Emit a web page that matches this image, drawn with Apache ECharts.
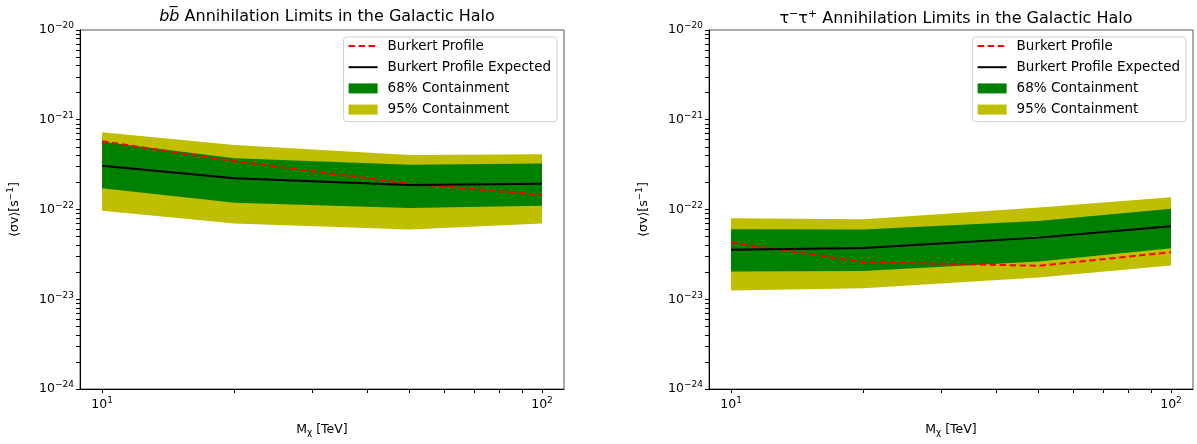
<!DOCTYPE html>
<html>
<head>
<meta charset="utf-8">
<script src="https://cdn.jsdelivr.net/npm/echarts@6/dist/echarts.min.js"></script>
<style>
  html, body { margin: 0; background: #fff; }
  #chart { width: 1197px; height: 444px; }
</style>
</head>
<body>
<div id="chart"></div>
<script>
  // dark matter mass [TeV]
  const massTeV = [10, 20, 50, 100]

  // b bbar channel, <sigma v> limits
  const bbObserved = [5.75e-22, 3.45e-22, 1.94e-22, 1.45e-22]
  const bbExpected = [3.08e-22, 2.23e-22, 1.88e-22, 1.94e-22]
  const bbLow68 = [1.73e-22, 1.19e-22, 1.04e-22, 1.10e-22]
  const bbHigh68 = [5.70e-22, 3.72e-22, 3.16e-22, 3.25e-22]
  const bbLow95 = [9.7e-23, 6.97e-23, 5.97e-23, 6.97e-23]
  const bbHigh95 = [7.26e-22, 5.24e-22, 4.06e-22, 4.12e-22]

  // tau tau channel
  const ttObserved = [4.28e-23, 2.59e-23, 2.36e-23, 3.34e-23]
  const ttExpected = [3.55e-23, 3.73e-23, 4.86e-23, 6.52e-23]
  const ttLow68 = [2.04e-23, 2.07e-23, 2.63e-23, 3.71e-23]
  const ttHigh68 = [6.03e-23, 5.97e-23, 7.46e-23, 1.02e-22]
  const ttLow95 = [1.25e-23, 1.33e-23, 1.75e-23, 2.38e-23]
  const ttHigh95 = [8.0e-23, 7.8e-23, 1.05e-22, 1.37e-22]

  // ticks (major ones get a label, all of them get a tick mark)
  const xMajorTicks = [10, 100]
  const xMinorTicks = [20, 30, 40, 50, 60, 70, 80, 90]
  const yMajorTicks = [1e-24, 1e-23, 1e-22, 1e-21, 1e-20]
  const yMinorMult = [2, 3, 4, 5, 6, 7, 8, 9]
  const yMinorTicks = []
  yMajorTicks.slice(0, 4).forEach(d => yMinorMult.forEach(m => yMinorTicks.push(m * d)))

  const fontFamily = 'DejaVu Sans'
  const supRich = {
    b: { fontSize: 12.5, fontFamily: fontFamily, color: '#000' },
    s: { fontSize: 9, fontFamily: fontFamily, color: '#000', padding: [0, 0, 8, 0] }
  }

  function powLabel(v) {
    const e = Math.round(Math.log10(v))
    return '{b|10}{s|' + String(e).replace('-', '\u2212') + '}'
  }

  const chart = echarts.init(document.getElementById('chart'))

  const panels = [
    { left: 80, right: 633, legendRight: 640, titleX: 322,
      title: '{i|b}{i|b\u0305} Annihilation Limits in the Galactic Halo',
      obs: bbObserved, exp: bbExpected, lo68: bbLow68, hi68: bbHigh68, lo95: bbLow95, hi95: bbHigh95 },
    { left: 709, right: 4, legendRight: 11, titleX: 951,
      title: '{t|\u03c4}{s|\u2212}{t|\u03c4}{s|+} Annihilation Limits in the Galactic Halo',
      obs: ttObserved, exp: ttExpected, lo68: ttLow68, hi68: ttHigh68, lo95: ttLow95, hi95: ttHigh95 }
  ]

  function band(lower, upper) {
    return function (params, api) {
      if (params.dataIndex !== 0) return null
      const pts = []
      massTeV.forEach((m, i) => pts.push(api.coord([m, upper[i]])))
      for (let i = massTeV.length - 1; i >= 0; i--) pts.push(api.coord([massTeV[i], lower[i]]))
      return { type: 'polygon', shape: { points: pts }, style: { fill: api.visual('color') } }
    }
  }

  const grid = [], xAxis = [], yAxis = [], series = [], title = [], legend = []

  panels.forEach((p, k) => {
    grid.push({ left: p.left, right: p.right, top: 30, bottom: 55, show: true,
      borderColor: '#555', borderWidth: 1, backgroundColor: 'transparent' })

    xAxis.push({
      type: 'log', gridIndex: k, min: 8.91, max: 112.2, position: 'bottom',
      name: '{b|M}{u|\u03c7} [TeV]', nameLocation: 'middle', nameGap: 33,
      nameTextStyle: { fontSize: 12.5, color: '#000', rich: {
        b: { fontSize: 12.5, fontFamily: fontFamily, color: '#000' },
        u: { fontSize: 9, fontFamily: fontFamily, color: '#000', padding: [6, 0, 0, 0] } } },
      axisLine: { show: true, onZero: false, lineStyle: { color: '#000', width: 1 } },
      axisTick: { customValues: xMajorTicks.concat(xMinorTicks), length: 4, lineStyle: { color: '#000' } },
      axisLabel: { customValues: xMajorTicks, formatter: powLabel, rich: supRich, margin: 7 },
      splitLine: { show: false }
    })
    yAxis.push({
      type: 'log', gridIndex: k, min: 1e-24, max: 1e-20, position: 'left',
      name: '\u27e8\u03c3v\u27e9[s{s|\u22121}]', nameLocation: 'middle', nameGap: 57, nameRotate: 90,
      nameTextStyle: { fontSize: 12.5, fontFamily: fontFamily, color: '#000',
        rich: { s: { fontSize: 9, fontFamily: fontFamily, color: '#000', padding: [0, 0, 8, 0] } } },
      axisLine: { show: true, onZero: false, lineStyle: { color: '#000', width: 1 } },
      axisTick: { customValues: yMajorTicks.concat(yMinorTicks), length: 4, lineStyle: { color: '#000' } },
      axisLabel: { customValues: yMajorTicks, formatter: powLabel, rich: supRich, margin: 6 },
      splitLine: { show: false }
    })

    series.push({
      name: '95% Containment', type: 'custom', xAxisIndex: k, yAxisIndex: k,
      itemStyle: { color: '#bfbf00' }, z: 1,
      renderItem: band(p.lo95, p.hi95),
      data: massTeV.map((m, i) => [m, p.lo95[i], p.hi95[i]]),
      encode: { x: 0, y: [1, 2] }
    })
    series.push({
      name: '68% Containment', type: 'custom', xAxisIndex: k, yAxisIndex: k,
      itemStyle: { color: '#008000' }, z: 2,
      renderItem: band(p.lo68, p.hi68),
      data: massTeV.map((m, i) => [m, p.lo68[i], p.hi68[i]]),
      encode: { x: 0, y: [1, 2] }
    })
    series.push({
      name: 'Burkert Profile', type: 'line', xAxisIndex: k, yAxisIndex: k,
      symbol: 'none', z: 3,
      itemStyle: { color: '#ff0000' },
      lineStyle: { color: '#ff0000', width: 2, type: [6.5, 3.5] },
      data: massTeV.map((m, i) => [m, p.obs[i]])
    })
    series.push({
      name: 'Burkert Profile Expected', type: 'line', xAxisIndex: k, yAxisIndex: k,
      symbol: 'none', z: 4,
      itemStyle: { color: '#000' },
      lineStyle: { color: '#000', width: 2 },
      data: massTeV.map((m, i) => [m, p.exp[i]])
    })

    title.push({
      text: p.title, left: p.titleX, top: 4, textAlign: 'center',
      textStyle: { fontSize: 16, fontWeight: 'normal', fontFamily: fontFamily, color: '#000',
        rich: {
          i: { fontSize: 16, fontStyle: 'italic', fontFamily: fontFamily, color: '#000' },
          t: { fontSize: 16, fontFamily: fontFamily, color: '#000' },
          s: { fontSize: 11, fontFamily: fontFamily, color: '#000', padding: [0, 0, 9, 0] }
        } }
    })

    legend.push({
      orient: 'vertical', right: p.legendRight, top: 37,
      itemWidth: 29, itemHeight: 10, itemGap: 7.2,
      padding: [2, 6, 5, 4],
      backgroundColor: 'rgba(255,255,255,0.8)', borderColor: '#d0d0d0', borderWidth: 1, borderRadius: 3,
      textStyle: { fontSize: 13.5, fontFamily: fontFamily, color: '#000', padding: [0, 0, 0, 5] },
      selectedMode: false,
      data: [
        { name: 'Burkert Profile', itemStyle: { opacity: 0 } },
        { name: 'Burkert Profile Expected', itemStyle: { opacity: 0 } },
        { name: '68% Containment', icon: 'rect' },
        { name: '95% Containment', icon: 'rect' }
      ]
    })
  })

  chart.setOption({
    animation: false,
    textStyle: { fontFamily: fontFamily },
    title: title,
    legend: legend,
    grid: grid,
    xAxis: xAxis,
    yAxis: yAxis,
    series: series
  })
</script>
</body>
</html>
